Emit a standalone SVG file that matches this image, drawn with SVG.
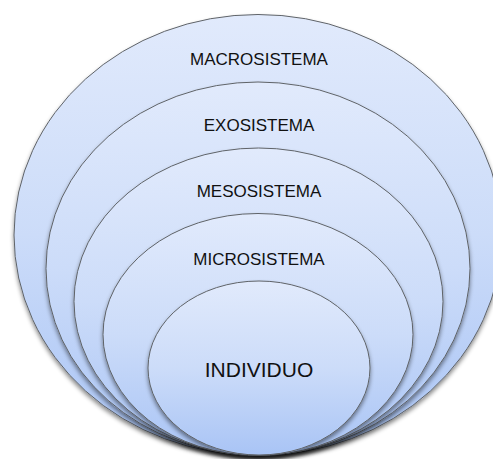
<svg xmlns="http://www.w3.org/2000/svg" width="493" height="459" viewBox="0 0 493 459">
  <defs>
    <linearGradient id="fillGrad" x1="0" y1="0" x2="0" y2="1">
      <stop offset="0" stop-color="#e1eafc"/>
      <stop offset="0.5" stop-color="#ccdcf9"/>
      <stop offset="1" stop-color="#a9c4f5"/>
    </linearGradient>
    <filter id="shadow" x="-10%" y="-10%" width="120%" height="125%">
      <feDropShadow dx="0" dy="3" stdDeviation="2" flood-color="#000" flood-opacity="0.45"/>
    </filter>
  </defs>
  <style>
    .ring { fill: url(#fillGrad); stroke: #5f6368; stroke-width: 1; filter: url(#shadow); }
    .label { font-family: "Liberation Sans", Arial, sans-serif; font-size: 17px; fill: #111; text-anchor: middle; }
    .big { font-size: 21px; }
  </style>
  <g id="macrosistema">
    <ellipse class="ring" cx="258" cy="235" rx="244" ry="220.5"/>
    <text class="label" x="259" y="65">MACROSISTEMA</text>
  </g>
  <g id="exosistema">
    <ellipse class="ring" cx="258" cy="268.5" rx="212" ry="186.5"/>
    <text class="label" x="259" y="131">EXOSISTEMA</text>
  </g>
  <g id="mesosistema">
    <ellipse class="ring" cx="258.5" cy="301.5" rx="184.5" ry="153.5"/>
    <text class="label" x="259" y="197">MESOSISTEMA</text>
  </g>
  <g id="microsistema">
    <ellipse class="ring" cx="258" cy="334.5" rx="155" ry="121"/>
    <text class="label" x="259" y="265">MICROSISTEMA</text>
  </g>
  <g id="individuo">
    <ellipse class="ring" cx="259" cy="368" rx="111" ry="87"/>
    <text class="label big" x="259" y="377">INDIVIDUO</text>
  </g>
  <g id="connectors"/>
</svg>
